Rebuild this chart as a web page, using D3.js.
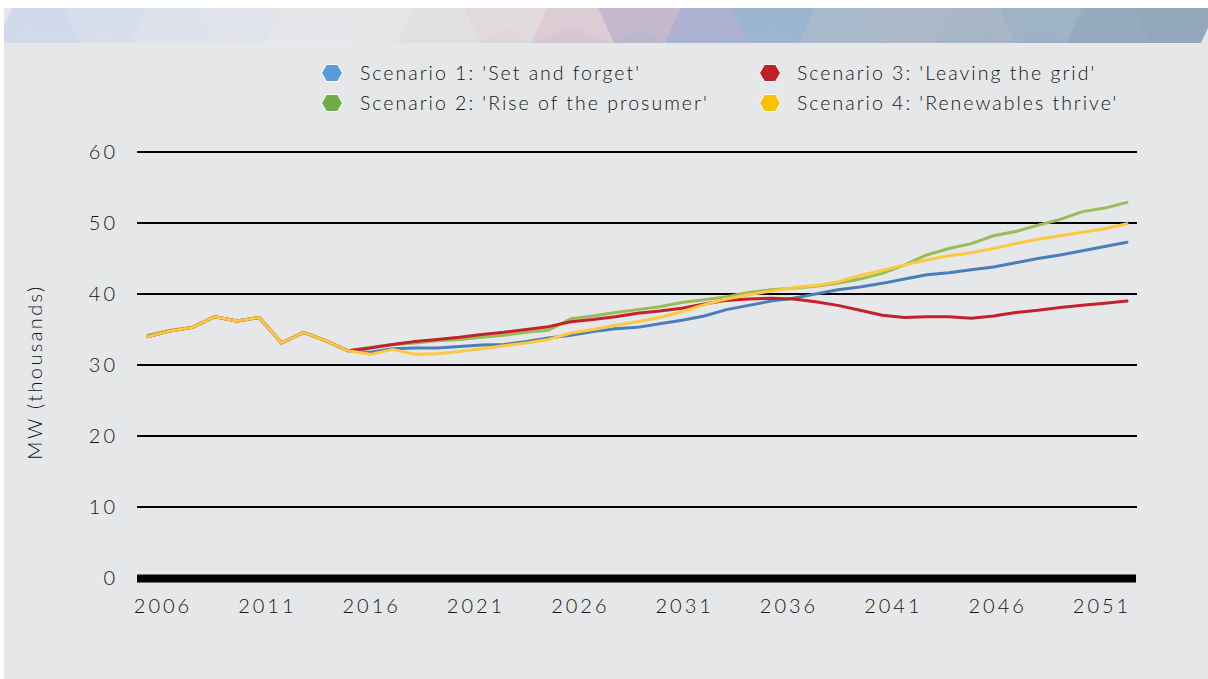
<!DOCTYPE html>
<html>
<head>
<meta charset="utf-8">
<script src="https://cdn.jsdelivr.net/npm/d3@7"></script>
<style>
  html, body { margin: 0; padding: 0; background: #ffffff; }
  svg { display: block; }
  text { font-family: "Lato", "Open Sans", sans-serif; fill: #141414; font-weight: 300; }
</style>
</head>
<body>
<svg id="chart" width="1208" height="679"></svg>
<script>
// ---------------- DATA ----------------
const years = [2006, 2007, 2008, 2009, 2010, 2011, 2012, 2013, 2014, 2015,
  2016, 2017, 2018, 2019, 2020, 2021, 2022, 2023, 2024, 2025,
  2026, 2027, 2028, 2029, 2030, 2031, 2032, 2033, 2034, 2035,
  2036, 2037, 2038, 2039, 2040, 2041, 2042, 2043, 2044, 2045,
  2046, 2047, 2048, 2049, 2050];

const scenario1 = [34.0, 34.8, 35.3, 36.8, 36.2, 36.7, 33.1, 34.6, 33.4, 32.0,
  31.8, 32.3, 32.4, 32.4, 32.6, 32.8, 32.9, 33.3, 33.8, 34.2,
  34.7, 35.1, 35.3, 35.8, 36.3, 36.9, 37.8, 38.4, 39.0, 39.4,
  40.0, 40.6, 41.0, 41.5, 42.1, 42.7, 43.0, 43.4, 43.8, 44.4,
  45.0, 45.5, 46.1, 46.7, 47.3];

const scenario2 = [34.2, 34.9, 35.3, 36.8, 36.2, 36.7, 33.1, 34.6, 33.4, 32.0,
  32.5, 32.9, 33.1, 33.4, 33.6, 33.9, 34.2, 34.6, 34.9, 36.5,
  36.9, 37.4, 37.8, 38.2, 38.8, 39.2, 39.6, 40.2, 40.6, 40.8,
  41.1, 41.5, 42.1, 42.9, 44.1, 45.5, 46.4, 47.1, 48.2, 48.8,
  49.7, 50.5, 51.6, 52.1, 52.9];

const scenario3 = [34.0, 34.8, 35.3, 36.8, 36.2, 36.7, 33.1, 34.6, 33.4, 32.0,
  32.4, 32.9, 33.3, 33.6, 33.9, 34.3, 34.6, 35.0, 35.4, 36.1,
  36.4, 36.8, 37.3, 37.6, 38.0, 38.6, 39.1, 39.3, 39.4, 39.3,
  38.9, 38.4, 37.7, 37.0, 36.7, 36.8, 36.8, 36.6, 36.9, 37.4,
  37.7, 38.1, 38.4, 38.7, 39.0];

const scenario4 = [34.0, 34.8, 35.3, 36.8, 36.2, 36.7, 33.1, 34.6, 33.4, 32.0,
  31.5, 32.2, 31.5, 31.6, 31.9, 32.3, 32.7, 33.1, 33.6, 34.5,
  35.0, 35.6, 36.1, 36.7, 37.5, 38.5, 39.3, 39.9, 40.4, 40.9,
  41.2, 41.7, 42.6, 43.3, 44.1, 44.8, 45.4, 45.8, 46.4, 47.1,
  47.7, 48.2, 48.7, 49.2, 49.9];

const seriesNames = ["Scenario 1: 'Set and forget'", "Scenario 2: 'Rise of the prosumer'",
  "Scenario 3: 'Leaving the grid'", "Scenario 4: 'Renewables thrive'"];
const lineColors = ["#4a7ebb", "#9bbb59", "#c4212b", "#fec840"];
const legendColors = ["#5b9bd5", "#70ad47", "#c0202a", "#ffc000"];

const yTicks = [0, 10, 20, 30, 40, 50, 60];
const xTickLabels = [2006, 2011, 2016, 2021, 2026, 2031, 2036, 2041, 2046, 2051];
const yAxisTitle = "MW (thousands)";

// decorative banner palette
const bannerColors = ["#cfd9ea", "#d6ddec", "#dde2ec", "#e0e3ea", "#e4e5e9", "#e6e6e9",
  "#e1e1e1", "#e0dadd", "#dccdd5", "#c4b8cc", "#aeb1d2", "#9bb5d0", "#a9b9cc",
  "#adb9c8", "#abb7c7", "#9fb3c7", "#96abbf", "#93a9bb"];

// ---------------- LAYOUT ----------------
const W = 1208, H = 679;
const plot = { left: 137, right: 1137, top: 152, bottom: 578 };
const fontFam = "Lato, 'Open Sans', sans-serif";
const textCol = "#141414";

const svg = d3.select("#chart");

// frame background
svg.append("rect").attr("x", 4).attr("y", 8).attr("width", W - 4).attr("height", H - 8)
  .attr("fill", "#e6e7e8");

// banner
const banner = svg.append("g");
const bTop = 8, bBot = 43;
const bx = d3.scaleLinear().domain([0, bannerColors.length]).range([4, W]);
bannerColors.forEach((c, i) => {
  const s1 = (i % 2 === 0) ? 8 : -8;
  const s2 = ((i + 1) % 2 === 0) ? 8 : -8;
  const x0 = bx(i), x1 = bx(i + 1);
  banner.append("path")
    .attr("d", `M${x0 + s1},${bTop} L${x1 + s2 + 1},${bTop} L${x1 - s2 + 1},${bBot} L${x0 - s1},${bBot} Z`)
    .attr("fill", c);
  const mid = (x0 + x1) / 2;
  banner.append("path")
    .attr("d", `M${x0 - s1},${bBot} L${mid},${bTop + 20} L${x1 - s2},${bBot} Z`)
    .attr("fill", d3.interpolateRgb(c, bannerColors[Math.min(i + 1, bannerColors.length - 1)])(0.5))
    .attr("opacity", 0.6);
});
svg.append("rect").attr("x", 0).attr("y", 0).attr("width", 4).attr("height", H).attr("fill", "#ffffff");

// scales
const x = d3.scaleLinear().domain([years[0], years[years.length - 1]]).range([148, 1127]);
const xLabel = d3.scaleLinear().domain([xTickLabels[0], xTickLabels[xTickLabels.length - 1]]).range([161, 1100]);
const y = d3.scaleLinear().domain([0, 60]).range([plot.bottom, plot.top]);

// gridlines
svg.append("g").selectAll("line").data(yTicks.filter(t => t > 0)).join("line")
  .attr("x1", plot.left).attr("x2", plot.right)
  .attr("y1", d => y(d)).attr("y2", d => y(d))
  .attr("stroke", "#000").attr("stroke-width", 2);

// y axis labels
const yAxis = svg.append("g").attr("transform", `translate(${plot.left},0)`)
  .call(d3.axisLeft(y).tickValues(yTicks).tickSize(0).tickPadding(19));
yAxis.select(".domain").remove();
yAxis.selectAll("text").attr("font-size", 20).attr("font-family", fontFam).attr("font-weight", 300)
  .attr("fill", textCol).style("letter-spacing", "3px");

// y axis title
svg.append("text")
  .attr("transform", `translate(42, 372) rotate(-90)`)
  .attr("text-anchor", "middle")
  .attr("font-size", 20)
  .style("letter-spacing", "2.4px")
  .text(yAxisTitle);

// lines
const allSeries = [scenario1, scenario2, scenario3, scenario4];
const line = d3.line().x((d, i) => x(years[i])).y(d => y(d));
svg.append("g").selectAll("path").data(allSeries).join("path")
  .attr("d", d => line(d))
  .attr("fill", "none")
  .attr("stroke", (d, i) => lineColors[i])
  .attr("stroke-width", 3)
  .attr("stroke-linejoin", "round")
  .attr("stroke-linecap", "round");

// zero axis bar
svg.append("line")
  .attr("x1", plot.left).attr("x2", plot.right - 1)
  .attr("y1", y(0) + 0.5).attr("y2", y(0) + 0.5)
  .attr("stroke", "#000").attr("stroke-width", 8);

// x axis labels
const xAxis = svg.append("g").attr("transform", `translate(1.5, 606)`)
  .call(d3.axisBottom(xLabel).tickValues(xTickLabels).tickFormat(d3.format("d")).tickSize(0).tickPadding(0));
xAxis.select(".domain").remove();
xAxis.selectAll("text").attr("y", 0).attr("dy", "0.35em").attr("font-size", 20)
  .attr("font-family", fontFam).attr("font-weight", 300).attr("fill", textCol)
  .style("letter-spacing", "3px");

// legend
const legendPos = [
  { hx: 332, tx: 360, ty: 73 },
  { hx: 332, tx: 360, ty: 103 },
  { hx: 770, tx: 797, ty: 73 },
  { hx: 770, tx: 797, ty: 103 }
];
const hex = "M-10.5,0 L-5.5,-8.5 L5.5,-8.5 L10.5,0 L5.5,8.5 L-5.5,8.5 Z";
const legend = svg.append("g").selectAll("g").data(seriesNames).join("g")
  .attr("transform", (d, i) => `translate(0, ${legendPos[i].ty})`);
legend.append("path").attr("d", hex)
  .attr("transform", (d, i) => `translate(${legendPos[i].hx},0)`)
  .attr("fill", (d, i) => legendColors[i]).attr("stroke", "#ffffff").attr("stroke-width", 1);
legend.append("text")
  .attr("x", (d, i) => legendPos[i].tx).attr("dy", "0.35em")
  .attr("font-size", 19.5).style("letter-spacing", "2px")
  .text(d => d);
</script>
</body>
</html>
